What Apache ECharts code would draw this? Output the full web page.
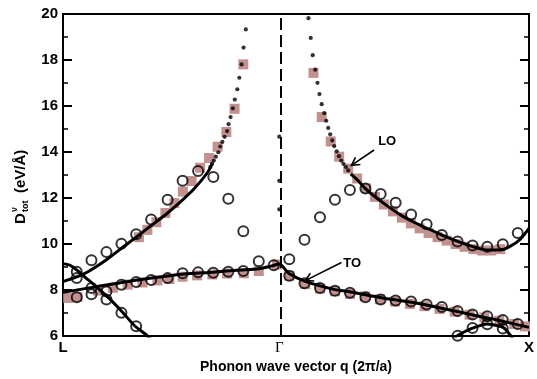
<!DOCTYPE html>
<html>
<head>
<meta charset="utf-8">
<script src="https://cdn.jsdelivr.net/npm/echarts@6/dist/echarts.min.js"></script>
<style>
html, body { margin: 0; padding: 0; background: #fff; }
#chart { width: 537px; height: 379px; }
</style>
</head>
<body>
<div id="chart"></div>
<script>
// q path L -> Gamma -> X, in units of 2pi/a (L = 0, Gamma = 0.866, X = 1.866)
const xTicks = [0, 0.866, 1.866];
const xTickLabels = ['L', 'Γ', 'X'];
const GAMMA = 0.866;

// theory curves (solid)
const loLeftLine = [[0, 8.37], [0.05, 8.55], [0.10, 8.80], [0.174, 9.32], [0.234, 9.82], [0.293, 10.3],
  [0.353, 10.8], [0.419, 11.35], [0.479, 11.92], [0.525, 12.4], [0.578, 13.1], [0.597, 13.49]];
const loRightLine = [[1.152, 13.05], [1.182, 12.75], [1.21, 12.42], [1.25, 12.05], [1.30, 11.65], [1.35, 11.28],
  [1.40, 10.98], [1.45, 10.72], [1.50, 10.48], [1.55, 10.25], [1.60, 10.04], [1.65, 9.86], [1.70, 9.74],
  [1.75, 9.74], [1.79, 9.9], [1.83, 10.2], [1.866, 10.68]];
const toLine = [[0, 7.90], [0.14, 8.16], [0.30, 8.44], [0.485, 8.70], [0.60, 8.78], [0.711, 8.87], [0.784, 8.93],
  [0.83, 9.03], [0.866, 9.13], [0.905, 8.72], [0.97, 8.38], [1.089, 8.02], [1.142, 7.94], [1.275, 7.67],
  [1.407, 7.45], [1.54, 7.16], [1.673, 6.84], [1.739, 6.70], [1.866, 6.38]];
const lowLeftLine = [[0, 9.15], [0.03, 9.07], [0.061, 8.82], [0.10, 8.45], [0.14, 8.09], [0.187, 7.62],
  [0.234, 7.09], [0.287, 6.45], [0.339, 6.0], [0.36, 5.75]];
const lowRightLine = [[1.565, 5.85], [1.577, 6.0], [1.61, 6.2], [1.64, 6.35], [1.699, 6.53], [1.74, 6.45],
  [1.766, 6.35], [1.792, 6.03], [1.80, 5.9]];

// divergent LO part (dotted)
const loLeftDots = [[0.590, 13.35], [0.597, 13.49], [0.604, 13.63], [0.612, 13.80], [0.622, 13.99], [0.630, 14.24],
  [0.638, 14.44], [0.647, 14.66], [0.657, 14.91], [0.663, 15.21], [0.671, 15.52], [0.680, 15.90], [0.688, 16.28],
  [0.698, 16.73], [0.706, 17.23], [0.715, 17.81], [0.723, 18.54], [0.732, 19.33]];
const loRightDots = [[0.983, 19.82], [0.992, 18.96], [1.000, 18.21], [1.010, 17.58], [1.019, 17.01], [1.027, 16.52],
  [1.036, 16.08], [1.046, 15.69], [1.054, 15.36], [1.062, 15.05], [1.070, 14.77], [1.078, 14.51], [1.086, 14.26],
  [1.096, 14.03], [1.105, 13.82], [1.114, 13.63], [1.123, 13.49], [1.133, 13.35], [1.142, 13.2]];
const gammaDots = [[GAMMA, 14.67], [GAMMA, 12.75], [GAMMA, 11.51]];

// squares
const loLeftSquares = [[0.722, 17.81], [0.687, 15.88], [0.654, 14.87], [0.619, 14.23], [0.585, 13.74], [0.549, 13.32],
  [0.515, 12.74], [0.480, 12.28], [0.446, 11.78], [0.410, 11.35], [0.374, 10.95], [0.338, 10.62], [0.304, 10.3]];
const toSquares = [[0.021, 7.66], [0.058, 7.7], [0.140, 7.98], [0.200, 8.1], [0.259, 8.24], [0.318, 8.33], [0.378, 8.42],
  [0.426, 8.48], [0.479, 8.58], [0.537, 8.64], [0.598, 8.68], [0.657, 8.72], [0.724, 8.73], [0.784, 8.83], [0.857, 9.11],
  [0.907, 8.62], [0.970, 8.26], [1.029, 8.07], [1.089, 7.95], [1.149, 7.83], [1.209, 7.72], [1.269, 7.6], [1.329, 7.5],
  [1.389, 7.4], [1.448, 7.3], [1.508, 7.18], [1.568, 7.06], [1.628, 6.93], [1.687, 6.81], [1.747, 6.67], [1.807, 6.53],
  [1.850, 6.42]];
const loRightSquares = [[1.003, 17.44], [1.036, 15.52], [1.072, 14.46], [1.106, 13.80], [1.142, 13.28], [1.178, 12.85],
  [1.214, 12.42], [1.249, 12.05], [1.285, 11.72], [1.321, 11.42], [1.357, 11.15], [1.393, 10.9], [1.428, 10.68],
  [1.464, 10.48], [1.500, 10.3], [1.536, 10.15], [1.572, 10.0], [1.608, 9.88], [1.643, 9.78], [1.679, 9.72],
  [1.715, 9.72], [1.751, 9.78]];

// open circles
const loCircles = [[0.055, 8.52], [0.114, 9.30], [0.174, 9.65], [0.234, 10.01], [0.293, 10.43], [0.353, 11.07],
  [0.419, 11.93], [0.479, 12.75], [0.541, 13.18], [0.602, 12.92], [0.662, 11.97], [0.722, 10.56],
  [0.906, 9.34], [0.967, 10.19], [1.029, 11.17], [1.089, 11.93], [1.149, 12.35], [1.211, 12.42], [1.272, 12.18],
  [1.332, 11.8], [1.394, 11.29], [1.456, 10.86], [1.517, 10.39], [1.580, 10.11], [1.640, 9.94], [1.699, 9.88],
  [1.761, 9.99], [1.821, 10.48]];
const toCircles = [[0.055, 7.69], [0.114, 7.82], [0.174, 7.94], [0.234, 8.23], [0.293, 8.35], [0.353, 8.44],
  [0.419, 8.52], [0.479, 8.73], [0.541, 8.77], [0.602, 8.75], [0.662, 8.80], [0.722, 8.83], [0.784, 9.25],
  [0.844, 9.08], [0.906, 8.62], [0.967, 8.30], [1.029, 8.09], [1.089, 7.97], [1.149, 7.88], [1.211, 7.69],
  [1.272, 7.59], [1.332, 7.55], [1.394, 7.50], [1.456, 7.37], [1.517, 7.26], [1.580, 7.09], [1.640, 6.94],
  [1.699, 6.86], [1.761, 6.70], [1.821, 6.53]];
const lowCircles = [[0.055, 8.80], [0.114, 8.09], [0.174, 7.59], [0.234, 7.02], [0.293, 6.43],
  [1.580, 6.02], [1.640, 6.35], [1.699, 6.52], [1.761, 6.33]];

// annotation anchors (data coords)
const loNote = { text: 'LO', at: [1.262, 14.45], from: [1.2455, 14.09], to: [1.155, 13.42] };
const toNote = { text: 'TO', at: [1.122, 9.15], from: [1.115, 9.20], to: [0.970, 8.41] };

const SANS = '"Liberation Sans", Arial, sans-serif';
const SERIF = '"Liberation Serif", "DejaVu Serif", serif';
const SQ_COLOR = '#c2918f';

let myChart = echarts.init(document.getElementById('chart'));

function lineSeries(data) {
  return { type: 'line', data: data, symbol: 'none', smooth: 0.25, clip: true,
    lineStyle: { color: '#000', width: 3 }, z: 3 };
}
function squareSeries(data) {
  return { type: 'scatter', data: data, symbol: 'rect', symbolSize: 10,
    itemStyle: { color: SQ_COLOR, opacity: 1 }, z: 2 };
}
function circleSeries(data) {
  return { type: 'scatter', data: data, symbol: 'circle', symbolSize: 10,
    itemStyle: { color: 'rgba(0,0,0,0)', borderColor: '#000', borderWidth: 2 }, z: 5 };
}
function dotSeries(data) {
  return { type: 'scatter', data: data, symbol: 'circle', symbolSize: 4.2,
    itemStyle: { color: '#000' }, z: 4 };
}

let gammaSeries = dotSeries(gammaDots);
gammaSeries.markLine = {
  silent: true, symbol: 'none', label: { show: false },
  lineStyle: { color: '#000', width: 2, type: [12, 5] },
  data: [{ xAxis: GAMMA }]
};

let option = {
  animation: false,
  backgroundColor: '#fff',
  grid: { left: 63, right: 5, top: 14, bottom: 37 },
  xAxis: [
    {
      type: 'value', min: 0, max: 1.866, position: 'bottom',
      axisLine: { onZero: false, lineStyle: { color: '#000', width: 2 } },
      axisTick: { show: false }, splitLine: { show: false },
      axisLabel: {
        customValues: xTicks, margin: 4,
        formatter: function (v) {
          let i = 0;
          xTicks.forEach(function (t, k) { if (Math.abs(t - v) < Math.abs(xTicks[i] - v)) i = k; });
          return i === 1 ? '{g|' + xTickLabels[i] + '}' : '{b|' + xTickLabels[i] + '}';
        },
        rich: {
          b: { fontFamily: SANS, fontWeight: 'bold', fontSize: 15, color: '#000' },
          g: { fontFamily: SERIF, fontSize: 15, color: '#000' }
        }
      },
      name: 'Phonon wave vector q (2π/a)', nameLocation: 'middle', nameGap: 21,
      nameTextStyle: { fontFamily: SANS, fontWeight: 'bold', fontSize: 14, color: '#000' }
    },
    {
      type: 'value', min: 0, max: 1.866, position: 'top',
      axisLine: { onZero: false, lineStyle: { color: '#000', width: 2 } },
      axisTick: { show: false }, axisLabel: { show: false }, splitLine: { show: false }
    }
  ],
  yAxis: [
    {
      type: 'value', min: 6, max: 20, interval: 2, position: 'left',
      axisLine: { show: true, onZero: false, lineStyle: { color: '#000', width: 2 } },
      axisTick: { inside: true, length: 9, lineStyle: { color: '#000', width: 2 } },
      minorTick: { show: true, splitNumber: 2, length: 5, lineStyle: { color: '#000', width: 1.5 } },
      axisLabel: { fontFamily: SANS, fontWeight: 'bold', fontSize: 15, color: '#000', margin: 5 },
      splitLine: { show: false }
    },
    {
      type: 'value', min: 6, max: 20, interval: 2, position: 'right',
      axisLine: { show: true, onZero: false, lineStyle: { color: '#000', width: 2 } },
      axisTick: { inside: true, length: 9, lineStyle: { color: '#000', width: 2 } },
      minorTick: { show: true, splitNumber: 2, length: 5, lineStyle: { color: '#000', width: 1.5 } },
      axisLabel: { show: false }, splitLine: { show: false }
    }
  ],
  series: [
    squareSeries(loLeftSquares),
    squareSeries(toSquares),
    squareSeries(loRightSquares),
    lineSeries(loLeftLine),
    lineSeries(loRightLine),
    lineSeries(toLine),
    lineSeries(lowLeftLine),
    lineSeries(lowRightLine),
    dotSeries(loLeftDots),
    dotSeries(loRightDots),
    gammaSeries,
    circleSeries(loCircles),
    circleSeries(toCircles),
    circleSeries(lowCircles)
  ]
};

myChart.setOption(option);

// arrows + labels, positioned from data coordinates
function noteGraphics(note) {
  const p = myChart.convertToPixel({ gridIndex: 0 }, note.at);
  const a = myChart.convertToPixel({ gridIndex: 0 }, note.from);
  const b = myChart.convertToPixel({ gridIndex: 0 }, note.to);
  const ang = Math.atan2(a[1] - b[1], a[0] - b[0]);
  const head = 9, spread = 0.5;
  const w1 = [b[0] + head * Math.cos(ang + spread), b[1] + head * Math.sin(ang + spread)];
  const w2 = [b[0] + head * Math.cos(ang - spread), b[1] + head * Math.sin(ang - spread)];
  return [
    { type: 'line', shape: { x1: a[0], y1: a[1], x2: b[0], y2: b[1] }, style: { stroke: '#000', lineWidth: 1.6 }, z: 10 },
    { type: 'polyline', shape: { points: [w1, b, w2] }, style: { stroke: '#000', lineWidth: 1.6, fill: null }, z: 10 },
    { type: 'text', x: p[0], y: p[1], z: 10,
      style: { text: note.text, font: 'bold 13px ' + SANS, fill: '#000',
        align: 'left', textAlign: 'left', verticalAlign: 'middle', textVerticalAlign: 'middle' } }
  ];
}

const yTitle = {
  type: 'group', x: 21, y: 224, rotation: Math.PI / 2, z: 10,
  children: [
    { type: 'text', x: 0, y: 0, style: { text: 'D', font: 'bold 15px ' + SANS, fill: '#000',
      align: 'left', textAlign: 'left', verticalAlign: 'middle', textVerticalAlign: 'middle' } },
    { type: 'text', x: 12, y: -6, style: { text: 'ν', font: 'bold 9px ' + SANS, fill: '#000',
      align: 'left', textAlign: 'left', verticalAlign: 'middle', textVerticalAlign: 'middle' } },
    { type: 'text', x: 12, y: 5, style: { text: 'tot', font: 'bold 9px ' + SANS, fill: '#000',
      align: 'left', textAlign: 'left', verticalAlign: 'middle', textVerticalAlign: 'middle' } },
    { type: 'text', x: 31, y: 0, style: { text: '(eV/Å)', font: 'bold 15px ' + SANS, fill: '#000',
      align: 'left', textAlign: 'left', verticalAlign: 'middle', textVerticalAlign: 'middle' } }
  ]
};

myChart.setOption({
  graphic: [].concat(noteGraphics(loNote), noteGraphics(toNote), [yTitle])
});
</script>
</body>
</html>
